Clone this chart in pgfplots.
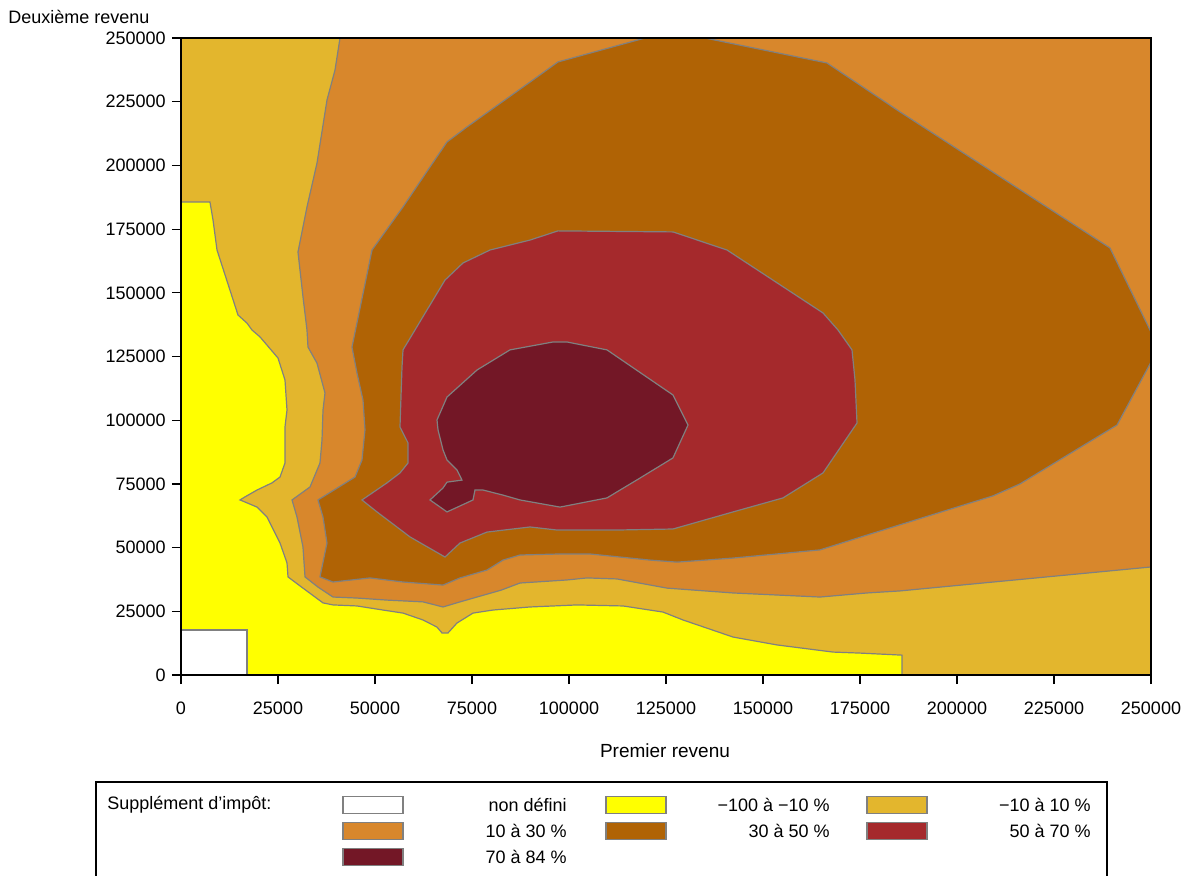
\documentclass[border=0pt]{standalone}
\usepackage{pgfplots}
\pgfplotsset{compat=1.18}
\usepackage{fontspec}
\setmainfont{Liberation Sans}
\definecolor{cgold}{RGB}{227,182,45}
\definecolor{corange}{RGB}{216,135,44}
\definecolor{cdark}{RGB}{176,99,5}
\definecolor{cred}{RGB}{165,41,44}
\definecolor{cmaroon}{RGB}{115,23,38}
\definecolor{cyellow}{RGB}{255,255,0}
\definecolor{cline}{RGB}{128,128,128}
\begin{document}
\fontsize{9}{11}\selectfont
\begin{tikzpicture}
\useasboundingbox (-90.5pt,-100pt) rectangle (506.5pt,337.5pt);
\begin{axis}[
  at={(0,0)}, anchor=south west,
  scale only axis, width=485pt, height=318.5pt,
  xmin=0, xmax=250000, ymin=0, ymax=250000,
  xtick={0,25000,50000,75000,100000,125000,150000,175000,200000,225000,250000},
  ytick={0,25000,50000,75000,100000,125000,150000,175000,200000,225000,250000},
  xticklabels={0,25000,50000,75000,100000,125000,150000,175000,200000,225000,250000},
  yticklabels={0,25000,50000,75000,100000,125000,150000,175000,200000,225000,250000},
  scaled ticks=false,
  tick label style={font=\fontsize{9}{11}\selectfont},
  tick align=outside, major tick length=4.5pt,
  xtick pos=bottom, ytick pos=left,
  axis line style={line width=0.8pt},
  tick style={line width=0.6pt, black},
  axis on top,
  xticklabel style={yshift=-6pt},
]
\addplot[fill=cgold, draw=none] coordinates {(0,0)(250000,0)(250000,250000)(0,250000)} -- cycle;
\addplot[fill=corange, draw=cline, line width=0.6pt] coordinates {(40980,250000)(39690,237400)(37630,225700)(35050,200900)(32470,183700)(30150,166000)(31440,148400)(32470,135400)(32730,128700)(35050,122400)(37110,110700)(36600,104000)(36340,92200)(35820,83200)(33250,73800)(28610,68700)(29900,62000)(31440,50200)(31960,38500)(35310,34500)(39180,30600)(45360,30200)(53090,29400)(62370,28700)(67530,26700)(71910,28700)(76290,30600)(82500,33300)(87370,36100)(99480,37300)(104640,38100)(112370,37700)(125260,34100)(142270,32200)(164690,30600)(176800,32200)(185310,33000)(250000,42400)(250000,250000)} -- cycle;
\addplot[fill=cdark, draw=cline, line width=0.6pt] coordinates {(44070,128700)(49230,166800)(57220,183700)(64180,199400)(68560,209200)(73710,215100)(89950,232700)(97160,240600)(119600,250000)(135050,250000)(166490,240200)(185310,221000)(239430,167600)(250000,134600)(250000,122800)(241240,98100)(216240,75000)(209280,70300)(177580,55300)(164690,49100)(142270,45900)(127840,44300)(120880,45100)(105410,47500)(97680,47500)(87370,47100)(82990,45100)(78870,41200)(71910,38100)(67530,35300)(57220,36500)(48710,38100)(39180,36500)(35820,38500)(37630,51800)(36600,62000)(35310,68700)(44850,77700)(46650,84400)(47420,96200)(46910,107900)(45360,118500)} -- cycle;
\addplot[fill=cred, draw=cline, line width=0.6pt] coordinates {(56440,97300)(56960,120900)(57220,127600)(68040,155000)(72680,161700)(79640,166800)(89950,170700)(97160,174300)(126800,173900)(140720,166800)(165460,142100)(169330,135400)(172940,127600)(173710,115800)(174230,98900)(165460,79300)(155150,69500)(142270,64000)(126800,57300)(112370,56900)(96910,56900)(89950,58100)(78870,56100)(71910,51800)(68040,46300)(59020,54200)(50520,64000)(46650,68700)(53090,75400)(56440,79300)(58510,83200)(58510,91100)} -- cycle;
\addplot[fill=cmaroon, draw=cline, line width=0.6pt] coordinates {(68560,109100)(65980,100100)(66240,96200)(67530,88300)(68560,84400)(71130,80500)(72420,76500)(68560,75700)(67530,73400)(64180,68700)(68560,64000)(75260,68700)(75770,72600)(77840,72600)(82990,70600)(87370,68700)(97680,65900)(109790,69500)(118300,77300)(126800,85200)(130670,98100)(126800,109900)(109790,127600)(99480,130700)(95880,130700)(84790,127600)(76290,119700)} -- cycle;
\addplot[fill=cyellow, draw=cline, line width=0.6pt] coordinates {(0,185600)(7470,185600)(8250,178600)(9280,166800)(14690,141300)(17010,138100)(18300,135400)(20360,132700)(25000,124400)(26800,115800)(27320,104000)(26800,97300)(26800,83200)(25520,77700)(23450,75400)(19590,72600)(16490,69900)(15210,68700)(16490,67900)(19590,65900)(22160,62000)(25520,51800)(27320,44000)(27580,38500)(31440,34100)(36600,28300)(39180,27500)(45360,27100)(52060,25500)(57220,24300)(62370,21600)(65980,18800)(67270,16500)(68810,16500)(71130,20400)(75260,24300)(80410,25500)(89950,26700)(102060,27500)(113920,27100)(124230,24700)(129380,21600)(142270,14900)(153610,11800)(168040,9000)(175000,8600)(185820,7800)(185820,0)(0,0)} -- cycle;
\addplot[fill=white, draw=cline, line width=0.6pt] coordinates {(0,0)(17010,0)(17010,17700)(0,17700)} -- cycle;
\end{axis}
\node[anchor=west, inner sep=0pt] at (-86.5pt,329pt) {Deuxième revenu};
\node[inner sep=0pt] at (242pt,-38pt) {\fontsize{9.5}{11}\selectfont Premier revenu};
% legend
\draw[line width=0.6pt] (-42.5pt,-110pt) -- (-42.5pt,-53.5pt) -- (463pt,-53.5pt) -- (463pt,-110pt);
\node[anchor=west, inner sep=0pt] at (-37pt,-65pt) {Supplément d'impôt:};
\foreach \c/\x/\y/\lab in {white/81/-65/{non défini}, cyellow/212.5/-65/{−100 à −10 \%}, cgold/343/-65/{−10 à 10 \%}, corange/81/-78/{10 à 30 \%}, cdark/212.5/-78/{30 à 50 \%}, cred/343/-78/{50 à 70 \%}, cmaroon/81/-91/{70 à 84 \%}}{
  \filldraw[fill=\c, draw=cline, line width=0.6pt] (\x pt,\y pt-4.25pt) rectangle ++(30pt,8.5pt);
  \node[anchor=east, inner sep=0pt] at (\x pt+112pt,\y pt) {\lab};
}
\end{tikzpicture}
\end{document}
